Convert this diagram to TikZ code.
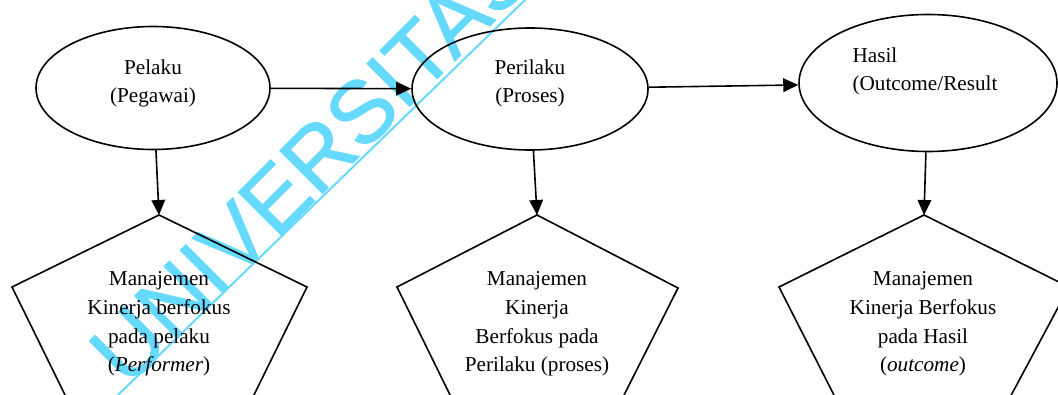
\documentclass[tikz,border=0pt]{standalone}
\usepackage{fontspec}
\setmainfont{Liberation Serif}
\newfontfamily\wmfont[FakeBold=1]{Liberation Sans}
\usepackage{xcolor}
\usepackage{tikz}
\usetikzlibrary{
	arrows.meta,
	calc,
	shapes,
	positioning
}
\definecolor{wmcyan}{RGB}{102,217,255}

\begin{document}
\begin{tikzpicture}[x=0.5pt, y=-0.5pt,
	oval/.style = {draw, ellipse, line width=0.8pt, inner sep=0pt},
	teks/.style = {align=center, inner sep=0pt, font=\fontsize{10.6}{14.3}\selectfont},
	pil/.style = {-{Triangle[length=7.5pt, width=6.8pt]}, line width=0.8pt},
	wm/.style = {text=wmcyan, inner sep=0pt, font=\wmfont\fontsize{44}{44}\selectfont}
	]
	
	\useasboundingbox (0,0) rectangle (1058,395);
	\clip (0,0) rectangle (1058,395);
	
	% watermark
	\node[wm, rotate=45, anchor=base west] (watermark) at (127,389) {UNIVERSITAS};
	\draw[wmcyan, line width=1pt] (98,414.4) -- (545,-19.4);
	
	% ellipses
	\node[oval, minimum width=117pt, minimum height=61.5pt] (pelaku) at (153,88) {};
	\node[teks] (pelakuteks) at (153,83.5) {Pelaku\\(Pegawai)};
	
	\node[oval, minimum width=118pt, minimum height=61pt] (perilaku) at (530,89) {};
	\node[teks] (perilakuteks) at (530,83.5) {Perilaku\\(Proses)};
	
	\node[oval, minimum width=129pt, minimum height=68.5pt] (hasil) at (928,83) {};
	\node[teks, align=left] (hasilteks) at (925,71.5) {Hasil\\(Outcome/Result};
	
	\draw[pil] (pelaku) -- (perilaku);
	\draw[pil] (perilaku) -- (hasil);
	
	% pentagons
	\coordinate (top1) at (159,215);
	\draw[line width=0.8pt] (top1) -- (307,287) -- (250,403) -- (69,403) -- (12,287) -- cycle;
	\node[teks] (fokus1) at (159,324) {Manajemen\\Kinerja berfokus\\pada pelaku\\(\textit{Performer})};
	
	\coordinate (top2) at (537,215);
	\draw[line width=0.8pt] (top2) -- (678,288) -- (620,403) -- (454,403) -- (397,287) -- cycle;
	\node[teks] (fokus2) at (537,324) {Manajemen\\Kinerja\\Berfokus pada\\Perilaku (proses)};
	
	\coordinate (top3) at (924,215);
	\draw[line width=0.8pt] (top3) -- (1069,287) -- (1007,403) -- (838,403) -- (779,287) -- cycle;
	\node[teks] (fokus3) at (923,324) {Manajemen\\Kinerja Berfokus\\pada Hasil\\(\textit{outcome})};
	
	\draw[pil] (pelaku) -- (top1);
	\draw[pil] (perilaku) -- (top2);
	\draw[pil] (hasil) -- (top3);
	
\end{tikzpicture}
\end{document}
